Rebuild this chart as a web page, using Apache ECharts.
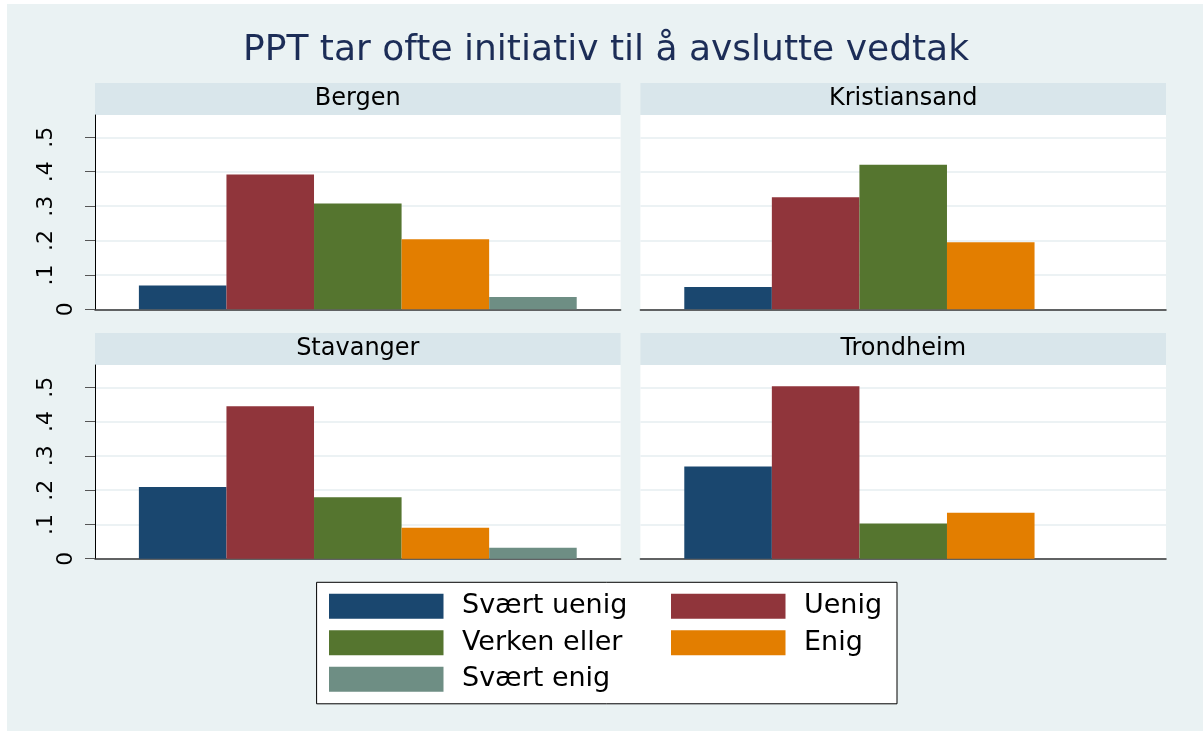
<!DOCTYPE html>
<html>
<head>
<meta charset="utf-8">
<script src="https://cdn.jsdelivr.net/npm/echarts@6/dist/echarts.min.js"></script>
<style>
    html, body { margin: 0; padding: 0; background: #fff; }
    #bg { position: absolute; left: 7px; top: 4px; width: 1196px; height: 727px; background: #eaf2f3; }
    #main { position: absolute; left: 0; top: 0; width: 1203px; height: 731px; }
</style>
</head>
<body>
<div id="bg"></div>
<div id="main"></div>
<script>
var cities = ['Bergen', 'Kristiansand', 'Stavanger', 'Trondheim'];
var responses = ['Svært uenig', 'Uenig', 'Verken eller', 'Enig', 'Svært enig'];
// andel per by, i rekkefølgen over
var svaertUenig = [0.069, 0.065, 0.209, 0.269];
var uenig = [0.392, 0.326, 0.445, 0.503];
var verkenEller = [0.308, 0.420, 0.179, 0.103];
var enig = [0.204, 0.195, 0.090, 0.134];
var svaertEnig = [0.036, 0, 0.032, 0];
var yTicks = [0, 0.1, 0.2, 0.3, 0.4, 0.5];
var yTickLabels = ['0', '.1', '.2', '.3', '.4', '.5'];

var values = [svaertUenig, uenig, verkenEller, enig, svaertEnig];
var colors = ['#1a476f', '#90353b', '#55752f', '#e37e00', '#6e8e84'];
var font = 'DejaVu Sans';

var panels = [
    {left: 95, top: 115, height: 194.3},
    {left: 640.4, top: 115, height: 194.3},
    {left: 95, top: 365, height: 193.7},
    {left: 640.4, top: 365, height: 193.7}
];
var panelWidth = 525.6;

var grids = [], xAxes = [], yAxes = [], series = [], graphics = [];

graphics.push({
    type: 'text',
    x: 606,
    y: 51,
    style: {
        text: 'PPT tar ofte initiativ til å avslutte vedtak',
        fontFamily: font,
        fontSize: 36,
        fill: '#1c2d57',
        align: 'center',
        verticalAlign: 'middle'
    }
});

panels.forEach(function (p, i) {
    var showY = (i % 2 == 0);
    grids.push({
        left: p.left,
        top: p.top,
        width: panelWidth,
        height: p.height,
        show: true,
        backgroundColor: '#fff',
        borderWidth: 0
    });
    xAxes.push({
        type: 'category',
        gridIndex: i,
        data: [''],
        axisTick: {show: false},
        axisLabel: {show: false},
        axisLine: {show: true, lineStyle: {color: '#333', width: 1.5}}
    });
    yAxes.push({
        type: 'value',
        gridIndex: i,
        min: 0,
        max: 0.565,
        interval: 0.1,
        axisLine: {show: showY, lineStyle: {color: '#000', width: 1}},
        axisTick: {show: showY, length: 10, customValues: yTicks, lineStyle: {color: '#555'}},
        axisLabel: {
            show: showY,
            customValues: yTicks,
            rotate: 90,
            margin: 17,
            formatter: function (v) {
                var k = yTicks.indexOf(Math.round(v * 10) / 10);
                if (k < 0) return '';
                return (k == 0 ? '{z|' : '{n|') + yTickLabels[k] + '}';
            },
            rich: {
                z: {fontFamily: font, fontSize: 22, color: '#000', lineHeight: 24},
                n: {fontFamily: font, fontSize: 22, color: '#000', lineHeight: 64}
            }
        },
        splitLine: {show: true, lineStyle: {color: '#e6eef1', width: 1.5}}
    });
    values.forEach(function (arr, r) {
        series.push({
            type: 'bar',
            name: responses[r],
            xAxisIndex: i,
            yAxisIndex: i,
            data: [arr[i]],
            barGap: 0,
            barCategoryGap: '16.7%',
            itemStyle: {color: colors[r]},
            emphasis: {disabled: true}
        });
    });
    graphics.push({
        type: 'rect',
        shape: {x: p.left, y: p.top - 32, width: panelWidth, height: 32},
        style: {fill: '#d9e6eb'}
    });
    graphics.push({
        type: 'text',
        x: p.left + panelWidth / 2,
        y: p.top - 16,
        style: {
            text: cities[i],
            fontFamily: font,
            fontSize: 24,
            fill: '#000',
            align: 'center',
            verticalAlign: 'middle'
        }
    });
});

var myChart = echarts.init(document.getElementById('main'));
myChart.setOption({
    animation: false,
    grid: grids,
    xAxis: xAxes,
    yAxis: yAxes,
    series: series,
    graphic: graphics,
    legend: {
        data: responses,
        left: 316.6,
        top: 582.3,
        width: 560,
        itemWidth: 114.5,
        itemHeight: 25,
        itemGap: 9.5,
        icon: 'rect',
        selectedMode: false,
        backgroundColor: '#fff',
        borderColor: '#000',
        borderWidth: 1,
        padding: [10.5, 12.4, 11, 12.4],
        formatter: function (name) {
            return (responses.indexOf(name) % 2 == 0 ? '{a|' : '{b|') + name + '}';
        },
        textStyle: {
            rich: {
                a: {fontFamily: font, fontSize: 27, color: '#000', width: 199.5, lineHeight: 26, padding: [0, 0, 0, 13.5]},
                b: {fontFamily: font, fontSize: 27, color: '#000', width: 80.6, lineHeight: 26, padding: [0, 0, 0, 13.5]}
            }
        }
    }
});
</script>
</body>
</html>
